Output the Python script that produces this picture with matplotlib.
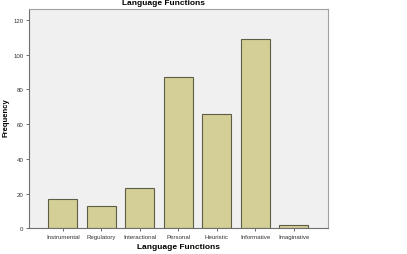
import matplotlib
matplotlib.use("Agg")
import matplotlib.pyplot as plt

categories = ["Instrumental", "Regulatory", "Interactional", "Personal", "Heuristic", "Informative", "Imaginative"]
frequency = [17, 13, 23, 87, 66, 109, 2]
yticks = [0, 20, 40, 60, 80, 100, 120]

plt.rcParams['font.family'] = ['Liberation Sans', 'DejaVu Sans']

fig = plt.figure(figsize=(4.07, 2.55), dpi=100)
ax = fig.add_axes([0.0713, 0.1008, 0.7337, 0.86])
ax.set_facecolor("#F0F0F0")

x = list(range(len(categories)))
ax.bar(x, frequency, width=0.75, color="#D3CF97", edgecolor="#5E5E47", linewidth=0.8, zorder=2)

ax.set_xlim(-0.88, 6.88)
ax.set_ylim(0, 126.4)
ax.set_yticks(yticks)
ax.set_yticklabels([str(v) for v in yticks], fontsize=4.4, color="#333333")
ax.set_xticks(x)
ax.set_xticklabels(categories, fontsize=4.4, color="#333333")
ax.tick_params(axis='both', length=2.5, width=0.6, color="#555555", pad=1.5)

for side in ["top", "right"]:
    ax.spines[side].set_color("#A0A0A0")
    ax.spines[side].set_linewidth(0.8)
for side in ["left", "bottom"]:
    ax.spines[side].set_color("#707070")
    ax.spines[side].set_linewidth(0.8)

ax.set_xlabel("Language Functions", fontsize=6, fontweight='bold', labelpad=3)
fig.text(6/407, 1 - 118/255, "Frequency", fontsize=5.5, fontweight='bold', rotation=90, ha='center', va='center')
fig.text(163/407, 1 - 4/255, "Language Functions", fontsize=6, fontweight='bold', ha='center', va='center')

fig.savefig("out.png", dpi=100)
